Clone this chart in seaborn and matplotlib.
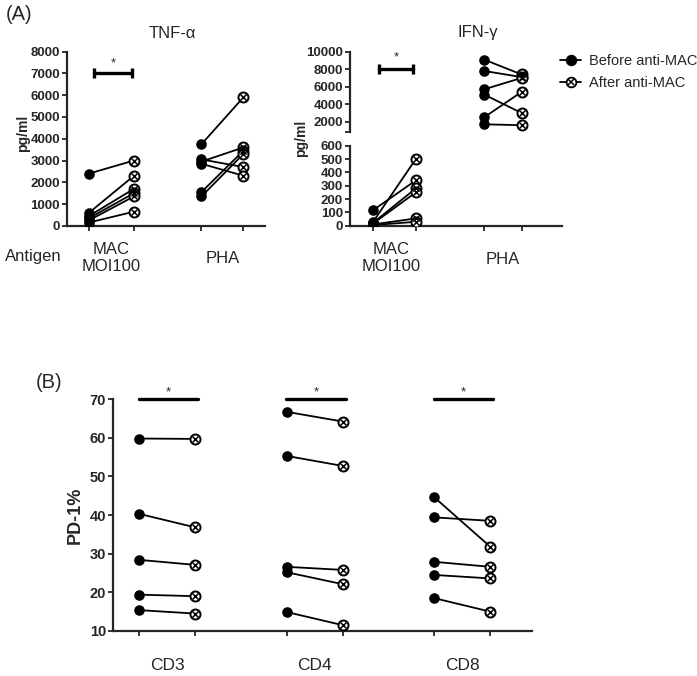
import matplotlib
matplotlib.use("Agg")

import numpy as np
import pandas as pd
import matplotlib.pyplot as plt
import matplotlib.transforms as mtransforms
from matplotlib.lines import Line2D
from matplotlib.legend_handler import HandlerTuple
import seaborn as sns

# --- data -----------------------------------------------------------------
# (A) TNF-alpha, pg/ml
tnf_mac_before = [2400, 600, 450, 350, 250, 150]
tnf_mac_after = [3000, 2300, 1700, 1500, 1350, 650]
tnf_pha_before = [3750, 3050, 2950, 2850, 1550, 1350]
tnf_pha_after = [5900, 2700, 3600, 2300, 3450, 3300]

# (A) IFN-gamma, pg/ml
ifn_mac_before = [115, 25, 20, 15, 10, 5]
ifn_mac_after = [340, 500, 280, 250, 55, 30]
ifn_pha_before = [9100, 7800, 5700, 5100, 2500, 1700]
ifn_pha_after = [7400, 7100, 7000, 3000, 5400, 1600]

# (B) PD-1 %
cd3_before = [59.8, 40.3, 28.4, 19.4, 15.4]
cd3_after = [59.7, 36.8, 27.1, 19.0, 14.5]
cd4_before = [66.7, 55.3, 26.6, 25.2, 14.9]
cd4_after = [64.2, 52.7, 25.8, 22.1, 11.5]
cd8_before = [44.6, 39.4, 27.9, 24.5, 18.5]
cd8_after = [31.8, 38.5, 26.6, 23.6, 15.0]

antigens = ["MAC\nMOI100", "PHA"]
cell_types = ["CD3", "CD4", "CD8"]
legend_labels = ["Before anti-MAC", "After anti-MAC"]

sns.set_style("ticks")
plt.rcParams["font.family"] = ["Liberation Sans", "DejaVu Sans"]

LW = 1.3
SPINE = 1.6


def pair_frame(before, after, xb, xa):
    n = len(before)
    return pd.DataFrame({
        "subject": list(range(n)) * 2,
        "x": [xb] * n + [xa] * n,
        "value": list(before) + list(after),
        "when": ["before"] * n + ["after"] * n,
    })


def draw_pairs(ax, df):
    sns.lineplot(data=df, x="x", y="value", units="subject", estimator=None,
                 sort=False, color="black", linewidth=LW, ax=ax, zorder=2,
                 legend=False)
    b = df[df["when"] == "before"]
    a = df[df["when"] == "after"]
    sns.scatterplot(data=b, x="x", y="value", marker="o", color="black",
                    s=58, linewidth=0, ax=ax, zorder=3, legend=False)
    sns.scatterplot(data=a, x="x", y="value", marker="o", color="white",
                    edgecolor="black", s=52, linewidth=1.4, ax=ax, zorder=3,
                    legend=False)
    sns.scatterplot(data=a, x="x", y="value", marker="x", color="black",
                    s=20, linewidth=1.1, ax=ax, zorder=4, legend=False)


def style_axis(ax, tick_size=9.5):
    sns.despine(ax=ax)
    for s in ("left", "bottom"):
        ax.spines[s].set_linewidth(SPINE)
    ax.tick_params(width=1.3, length=3.5, labelsize=tick_size, pad=1.5)
    for lab in ax.get_yticklabels():
        lab.set_fontweight("bold")
    ax.set_xlabel("")
    ax.set_ylabel("")


def sig_bar(ax, x0, x1, y, ystar, caps=True):
    ax.plot([x0, x1], [y, y], color="black", lw=2.4, clip_on=False,
            marker="|" if caps else None, ms=7, mew=2.4, zorder=5)
    ax.text((x0 + x1) / 2, ystar, "*", ha="center", va="center",
            fontsize=9.5)


fig = plt.figure(figsize=(6.97, 6.76), dpi=100)

# ---------------- TNF-alpha ----------------
ax_t = fig.add_axes([0.0961, 0.666, 0.284, 0.2575])
tnf_x = [0, 1, 2.5, 3.43]
draw_pairs(ax_t, pair_frame(tnf_mac_before, tnf_mac_after, tnf_x[0], tnf_x[1]))
draw_pairs(ax_t, pair_frame(tnf_pha_before, tnf_pha_after, tnf_x[2], tnf_x[3]))
ax_t.set_xlim(-0.49, 3.91)
ax_t.set_ylim(0, 8000)
ax_t.set_yticks(np.arange(0, 8001, 1000))
ax_t.set_xticks(tnf_x)
ax_t.set_xticklabels([])
style_axis(ax_t)
sig_bar(ax_t, 0.11, 0.96, 7000, 7480)
trans = mtransforms.blended_transform_factory(ax_t.transData, ax_t.transAxes)
ax_t.text(0.5, -0.186, antigens[0], transform=trans, ha="center", va="center",
          fontsize=12, linespacing=1.2)
ax_t.text(2.97, -0.19, antigens[1], transform=trans, ha="center", va="center",
          fontsize=12)

# ---------------- IFN-gamma (broken axis) ----------------
ifn_x = [0, 1, 2.59, 3.46]
ax_iu = fig.add_axes([0.502, 0.8052, 0.3037, 0.1183])
ax_il = fig.add_axes([0.502, 0.666, 0.3037, 0.1183])
draw_pairs(ax_il, pair_frame(ifn_mac_before, ifn_mac_after, ifn_x[0], ifn_x[1]))
draw_pairs(ax_iu, pair_frame(ifn_pha_before, ifn_pha_after, ifn_x[2], ifn_x[3]))
for ax in (ax_iu, ax_il):
    ax.set_xlim(-0.53, 4.39)
ax_iu.set_ylim(857, 10000)
ax_iu.set_yticks([857, 2000, 4000, 6000, 8000, 10000])
ax_iu.set_yticklabels(["", "2000", "4000", "6000", "8000", "10000"])
ax_iu.set_xticks([])
ax_il.set_ylim(0, 600)
ax_il.set_yticks(np.arange(0, 601, 100))
ax_il.set_xticks(ifn_x)
ax_il.set_xticklabels([])
style_axis(ax_iu)
style_axis(ax_il)
ax_iu.spines["bottom"].set_visible(False)
sig_bar(ax_iu, 0.15, 0.93, 8000, 9400)
trans = mtransforms.blended_transform_factory(ax_il.transData, ax_il.transAxes)
ax_il.text(0.43, -0.40, antigens[0], transform=trans, ha="center", va="center",
           fontsize=12, linespacing=1.2)
ax_il.text(3.02, -0.42, antigens[1], transform=trans, ha="center", va="center",
           fontsize=12)

# ---------------- panel A labels ----------------
fig.text(0.008, 0.978, "(A)", fontsize=14.5, va="center")
fig.text(172 / 697, 1 - 33 / 676, "TNF-α", fontsize=12, ha="center", va="center")
fig.text(478 / 697, 1 - 33 / 676, "IFN-γ", fontsize=12, ha="center", va="center")
fig.text(23 / 697, 1 - 133 / 676, "pg/ml", fontsize=10, fontweight="bold",
         rotation=90, ha="center", va="center")
fig.text(301 / 697, 1 - 138 / 676, "pg/ml", fontsize=10, fontweight="bold",
         rotation=90, ha="center", va="center")
fig.text(33 / 697, 1 - 257 / 676, "Antigen", fontsize=12, ha="center", va="center")

before_h = Line2D([], [], color="black", marker="o", ms=7.2, lw=LW)
after_o = Line2D([], [], color="black", marker="o", ms=7, mfc="white",
                 mec="black", mew=1.3, lw=LW)
after_x = Line2D([], [], color="black", marker="x", ms=4.2, mew=1.1, lw=0)
fig.legend([before_h, (after_o, after_x)], legend_labels,
           handler_map={tuple: HandlerTuple(ndivide=1)},
           loc="center left", bbox_to_anchor=(553 / 697, 1 - 72 / 676),
           frameon=False, fontsize=10.5, handlelength=1.4, handletextpad=0.6,
           labelspacing=0.5, borderpad=0, numpoints=1)

# ---------------- (B) PD-1% ----------------
ax_b = fig.add_axes([0.162, 0.0666, 0.601, 0.343])
pd_x = [0, 1, 2.63, 3.63, 5.26, 6.26]
groups = [(cd3_before, cd3_after), (cd4_before, cd4_after), (cd8_before, cd8_after)]
for i, (bef, aft) in enumerate(groups):
    draw_pairs(ax_b, pair_frame(bef, aft, pd_x[2 * i], pd_x[2 * i + 1]))
ax_b.set_xlim(-0.47, 7.0)
ax_b.set_ylim(10, 70)
ax_b.set_yticks(np.arange(10, 71, 10))
ax_b.set_xticks(pd_x)
ax_b.set_xticklabels([])
style_axis(ax_b, tick_size=10.5)
trans = mtransforms.blended_transform_factory(ax_b.transData, ax_b.transAxes)
for i, name in enumerate(cell_types):
    x0, x1 = pd_x[2 * i], pd_x[2 * i + 1]
    sig_bar(ax_b, x0 - 0.01, x1 + 0.05, 70, 71.6, caps=False)
    ax_b.text((x0 + x1) / 2, -0.15, name, transform=trans, ha="center",
              va="center", fontsize=12.5)

fig.text(49 / 697, 1 - 382 / 676, "(B)", fontsize=14.5, ha="center", va="center")
fig.text(75 / 697, 1 - 515 / 676, "PD-1%", fontsize=13, fontweight="bold",
         rotation=90, ha="center", va="center")

fig.savefig("out.png", dpi=100)
